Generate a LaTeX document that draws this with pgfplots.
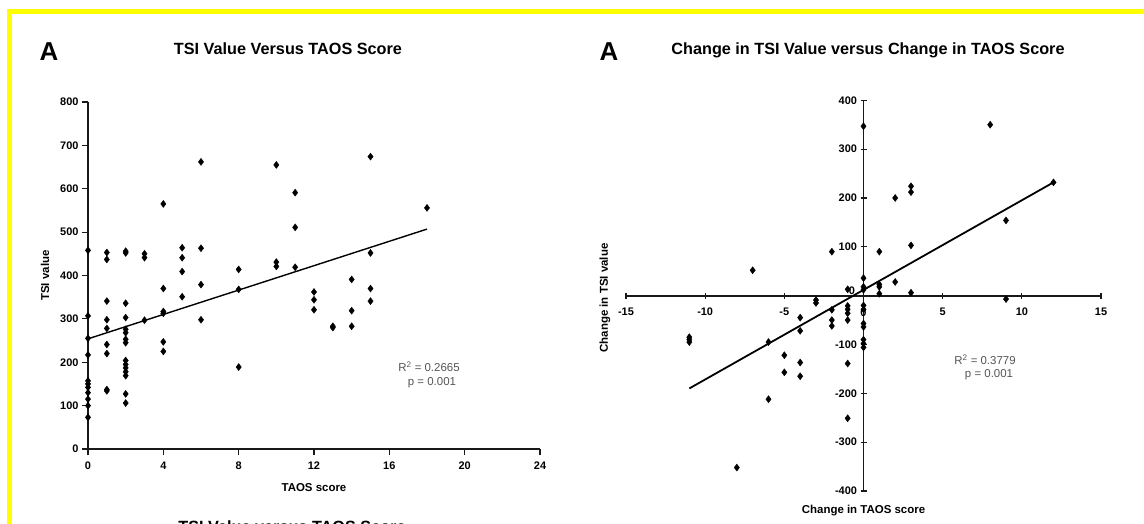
\documentclass[border=0pt]{standalone}
\usepackage{pgfplots}
\pgfplotsset{compat=1.18}
\usepackage{fontspec}
\setmainfont{Liberation Sans}
\definecolor{ylw}{RGB}{255,255,0}
\definecolor{rtxt}{RGB}{85,85,85}
\pgfplotsset{
  every axis/.append style={
    scale only axis,
    /pgf/number format/assume math mode=true,
    tick label style={font=\fontsize{11}{13}\selectfont\bfseries, black},
    label style={font=\fontsize{11.5}{13}\selectfont\bfseries, black},
    axis line style={line width=1.7bp, black!90},
    tick style={line width=1.2bp, black!90},
    major tick length=6bp,
  },
}
\begin{document}
\begin{tikzpicture}
% yellow frame
\fill[ylw] (7.3bp,-9.3bp) rectangle (1144bp,-14.3bp);
\fill[ylw] (7.3bp,-9.3bp) rectangle (12.3bp,-524bp);
% titles
\node[font=\fontsize{26}{28}\selectfont\bfseries] at (49bp,-52bp) {A};
\node[font=\fontsize{26}{28}\selectfont\bfseries] at (609bp,-52bp) {A};
\node[font=\fontsize{16.3}{19}\selectfont\bfseries] at (288bp,-49bp) {TSI Value Versus TAOS Score};
\node[font=\fontsize{16.3}{19}\selectfont\bfseries] at (868bp,-50bp) {Change in TSI Value versus Change in TAOS Score};
\begin{scope}
\clip (0,0) rectangle (1144bp,-524bp);
\node[font=\fontsize{16.3}{19}\selectfont\bfseries, anchor=base] at (292bp,-532.4bp) {TSI Value versus TAOS Score};
\end{scope}

\begin{axis}[
  at={(88bp,-449bp)}, anchor=south west,
  width=452bp, height=347bp,
  xmin=0, xmax=24, ymin=0, ymax=800,
  xtick={0,4,...,24}, ytick={0,100,...,800},
  axis lines*=left, tick align=outside,
  xticklabel style={yshift=-3bp},
  clip=false,
  xlabel={TAOS score}, ylabel={TSI value},
  xlabel style={at={(axis description cs:0.5,-0.111)}, anchor=center},
  ylabel style={at={(axis description cs:-0.0951,0.5)}, anchor=center},
]
\addplot[only marks, mark=diamond*, mark size=3.5bp, black] coordinates {
(0,458) (0,307) (0,255) (0,217) (0,157) (0,150) (0,142) (0,130) (0,115) (0,100) (0,73)
(1,453) (1,437) (1,341) (1,298) (1,278) (1,241) (1,220) (1,137) (1,134)
(2,456) (2,452) (2,336) (2,303) (2,276) (2,268) (2,253) (2,245) (2,204) (2,195) (2,187) (2,178) (2,169) (2,127) (2,106)
(3,450) (3,441) (3,297)
(4,565) (4,370) (4,317) (4,313) (4,247) (4,225)
(5,464) (5,441) (5,409) (5,351)
(6,662) (6,463) (6,379) (6,298)
(8,414) (8,368) (8,189)
(10,655) (10,431) (10,421)
(11,591) (11,511) (11,419)
(12,362) (12,344) (12,321)
(13,283) (13,280)
(14,391) (14,319) (14,283)
(15,674) (15,452) (15,370) (15,341)
(18,556)
};
\addplot[black, line width=1.4bp] coordinates {(0,254) (18,507)};
\end{axis}

\begin{axis}[
  at={(626bp,-491bp)}, anchor=south west,
  width=475bp, height=390.7bp,
  xmin=-15, xmax=15, ymin=-400, ymax=400,
  xtick={-15,-10,...,15}, ytick={-400,-300,...,400},
  axis lines*=middle, tick align=center,
  xticklabel style={yshift=-6bp},
  clip=false,
  xlabel={Change in TAOS score},
  xlabel style={at={(axis description cs:0.5,-0.0512)}, anchor=center},
]
\addplot[only marks, mark=diamond*, mark size=3.5bp, black] coordinates {
(0,347) (8,350) (12,232) (3,224) (3,212) (2,200) (9,154) (3,103) (1,90) (-2,90) (-7,52)
(0,36) (0,18) (0,12) (1,23) (1,18) (1,4) (2,28) (3,6) (9,-7) (-1,13)
(-3,-9) (-3,-15) (-1,-21) (-1,-28) (-1,-36) (-1,-50) (-1,-139) (-1,-251)
(0,-20) (0,-28) (0,-57) (0,-64) (0,-90) (0,-98) (0,-106)
(-2,-29) (-2,-50) (-2,-62) (-4,-45) (-4,-72) (-4,-137) (-4,-165)
(-5,-122) (-5,-157) (-6,-95) (-6,-212) (-8,-352) (-11,-85) (-11,-90) (-11,-95)
};
\addplot[black, line width=1.8bp] coordinates {(-11,-190) (12,232)};
\node[font=\fontsize{11}{13}\selectfont\bfseries, anchor=east] at (axis cs:0,0) [xshift=-5bp, yshift=5bp] {0};
\node[font=\fontsize{11}{13}\selectfont\bfseries] at (axis cs:0,0) [yshift=-17bp] {0};
\end{axis}
\node[font=\fontsize{11.5}{13}\selectfont\bfseries, rotate=90] at (605bp,-298bp) {Change in TSI value};

\node[font=\fontsize{11.5}{13}\selectfont, text=rtxt] at (429bp,-367bp) {R\textsuperscript{2} = 0.2665};
\node[font=\fontsize{11.5}{13}\selectfont, text=rtxt] at (432bp,-383bp) {p = 0.001};
\node[font=\fontsize{11.5}{13}\selectfont, text=rtxt] at (985bp,-360bp) {R\textsuperscript{2} = 0.3779};
\node[font=\fontsize{11.5}{13}\selectfont, text=rtxt] at (989bp,-375bp) {p = 0.001};

\pgfresetboundingbox
\path[use as bounding box] (0,0) rectangle (1144bp,-524bp);
\end{tikzpicture}
\end{document}
